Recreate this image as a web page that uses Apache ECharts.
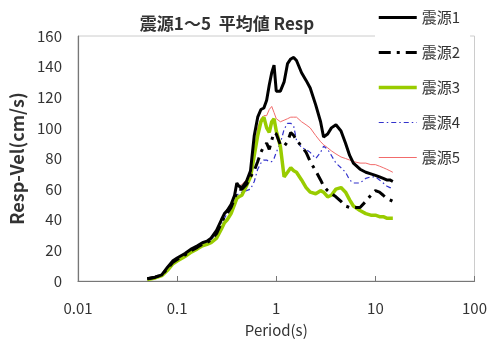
<!DOCTYPE html>
<html><head><meta charset="utf-8">
<script src="https://cdn.jsdelivr.net/npm/echarts@6/dist/echarts.min.js"></script>
<style>html,body{margin:0;padding:0;background:#fff}#c{width:490px;height:347px}</style>
</head><body><div id="c"></div>
<script>
const titleText = '震源1～5  平均値 Resp';
const seriesNames = ['震源1','震源2','震源3','震源4','震源5'];
const xTicks = [0.01, 0.1, 1, 10, 100];
const periods = [0.05,0.06,0.07,0.08,0.09,0.1,0.12,0.14,0.16,0.18,0.2,0.22,0.25,0.28,0.3,0.32,0.35,0.38,
  0.4,0.42,0.45,0.5,0.55,
  0.6,0.65,0.7,0.75,0.8,0.85,0.9,0.95,1.0,
  1.1,1.2,1.3,1.4,1.5,1.6,
  1.8,2.0,2.2,2.5,2.8,3.0,3.3,3.6,4.0,4.5,5.0,5.5,6.0,
  7,8,9,10,11,12,13,14,15];
const s1 = [1.5,2.5,4,9,13,15,18,21,23,25,26,28,33,40,44,46,50,56,
  64,62,61,65,72,
  95,107,112,113,118,128,136,141,124,
  124,130,142,145,146,144,
  136,131,126,115,104,94,96,100,102,98,90,82,77,
  73,71,70,69,68,67,66,66,65];
const s2 = [1.5,2.5,4,8,12,14,17,20,22,24,25,27,31,38,42,44,48,54,
  58,60,60,63,68,
  72,78,84,88,90,86,92,97,96,
  89,88,91,97,95,92,
  88,84,78,72,66,62,59,57,55,52,49,48,48,
  48,52,56,59,58,56,54,53,52];
const s3 = [1,2,3.5,7,11,13,16,19,21,23,24,25,28,34,38,40,44,50,
  54,55,56,62,68,
  82,95,104,107,100,97,104,106,98,
  88,68,71,74,72,71,
  66,61,58,57,59,58,55,56,60,61,58,53,49,
  46,44,43,43,42,42,41,41,41];
const s4 = [1.5,2.5,4,8,12,14,17,20,22,24,26,27,31,37,41,44,47,52,
  56,57,58,59,60,
  65,73,77,79,79,78,78,80,84,
  90,99,103,103,101,92,
  87,86,84,80,84,88,86,82,77,74,71,66,64,
  64,67,68,68,66,64,62,61,61];
const s5 = [1.5,2.5,4,8,12,14,17,21,23,25,26,28,33,40,44,47,50,55,
  62,62,63,66,70,
  80,100,106,108,108,112,114,110,106,
  104,105,106,107,107,107,
  104,102,100,95,91,89,87,85,83,81,80,79,78,
  77,77,76,76,75,74,73,72,71];

const values = [s1,s2,s3,s4,s5];
const styles = [
  {color:'#000000', width:3, type:'solid'},
  {color:'#000000', width:3, type:[12,6,3,6]},
  {color:'#99cc00', width:3.5, type:'solid'},
  {color:'#3333cc', width:1.2, type:[5,3,1.5,3]},
  {color:'#f26b6b', width:1, type:'solid'}
];
const font = '"Noto Sans CJK JP", "Noto Sans", sans-serif';
const chart = echarts.init(document.getElementById('c'), null, {renderer:'canvas'});
chart.setOption({
  animation:false,
  backgroundColor:'#fff',
  title:{text:titleText, left:222, textAlign:'center', top:10,
    textStyle:{fontFamily:font, fontSize:17, fontWeight:'bold', color:'#333'}},
  grid:{left:78, right:13, top:36, bottom:66, show:true, borderColor:'#cccccc', borderWidth:1, backgroundColor:'transparent'},
  legend:{orient:'vertical', left:375, top:6, itemWidth:38, itemHeight:14, itemGap:20,
    backgroundColor:'#fff', padding:[4,10,4,2],
    itemStyle:{opacity:0},
    lineStyle:{width:'inherit'},
    textStyle:{fontFamily:font, fontSize:15, color:'#333'},
    data:seriesNames},
  xAxis:{type:'log', logBase:10, min:0.01, max:100,
    name:'Period(s)', nameLocation:'middle', nameGap:42,
    nameTextStyle:{fontFamily:font, fontSize:15, color:'#333'},
    axisLine:{lineStyle:{color:'#777', width:1.2}},
    axisTick:{inside:true, length:5, lineStyle:{color:'#777'}},
    splitLine:{show:false}, minorTick:{show:false},
    axisLabel:{fontFamily:font, fontSize:15, color:'#333', margin:20,
      formatter:v=>{const t = xTicks.find(x=>Math.abs(x-v)/x<1e-6); return t===undefined?'':String(t);}}},
  yAxis:{type:'value', min:0, max:160, interval:20,
    name:'Resp-Vel(cm/s)', nameLocation:'middle', nameGap:52, nameRotate:90,
    nameTextStyle:{fontFamily:font, fontSize:18, fontWeight:'bold', color:'#333'},
    axisLine:{show:true, lineStyle:{color:'#777', width:1.2}},
    axisTick:{show:false}, splitLine:{show:false},
    axisLabel:{fontFamily:font, fontSize:15, color:'#333', margin:16}},
  series: seriesNames.map((n,i)=>({
    name:n, type:'line', symbol:'none', smooth:false,
    data: periods.map((p,j)=>[p, values[i][j]]),
    lineStyle:{color:styles[i].color, width:styles[i].width, type:styles[i].type},
    itemStyle:{color:styles[i].color},
    z: 10 - i
  }))
});
</script></body></html>
